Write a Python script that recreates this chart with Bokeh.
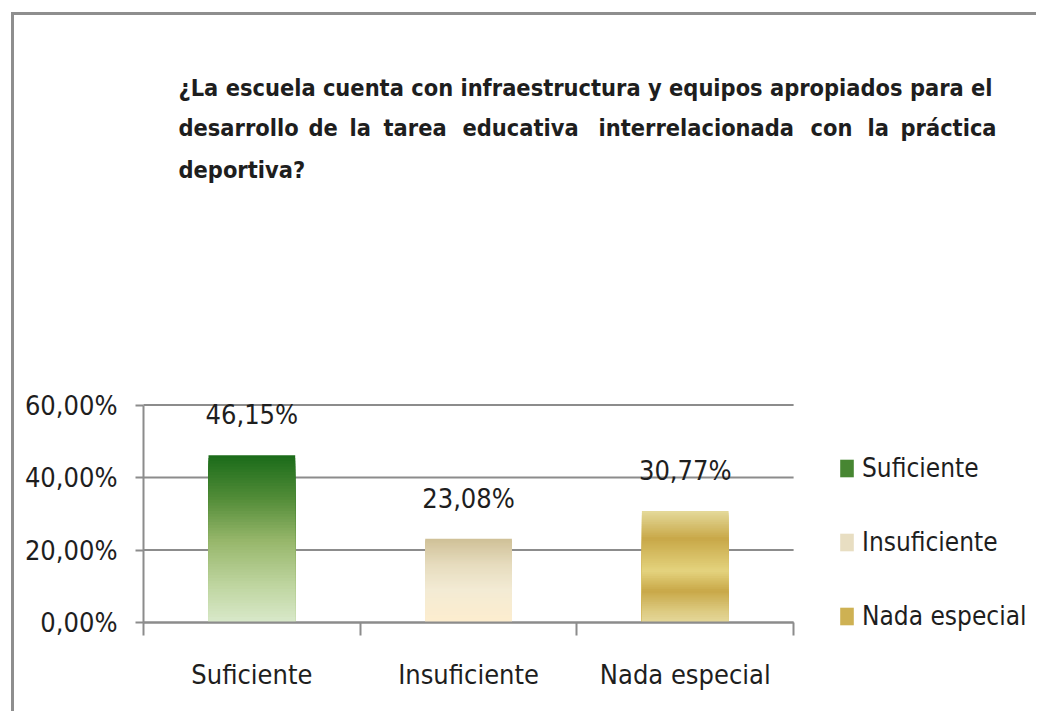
from bokeh.plotting import figure
from bokeh.models import (Range1d, FixedTicker, CustomJSTickFormatter, ColumnDataSource,
                          LabelSet, Label, Legend, LegendItem, InlineStyleSheet)
from bokeh.core.properties import value
from bokeh.embed import file_html
from bokeh.resources import INLINE

# ---------------- data ----------------
categories = ["Suficiente", "Insuficiente", "Nada especial"]
values = [46.15, 23.08, 30.77]
value_labels = ["46,15%", "23,08%", "30,77%"]
y_ticks = [0, 20, 40, 60]
y_tick_labels = ["0,00%", "20,00%", "40,00%", "60,00%"]
title_line1 = "¿La escuela cuenta con infraestructura y equipos apropiados para el"
title_line2_words = ["desarrollo", "de", "la", "tarea", "educativa", "interrelacionada", "con", "la", "práctica"]
title_line3 = "deportiva?"

# ---------------- style ----------------
FONT = "'DejaVu Sans Condensed', 'DejaVu Sans', sans-serif"
FS = "27px"
FS_LEG = "26px"
FS_TITLE = "23.4px"
GRAY = "#8c8c8c"
TXT = "#1e1e1e"
stops = [
    [(0.0, (28, 108, 26)), (0.25, (82, 140, 56)), (0.5, (150, 182, 106)), (0.75, (188, 211, 156)), (1.0, (218, 234, 204))],
    [(0.0, (208, 193, 152)), (0.3, (230, 220, 190)), (0.6, (243, 235, 212)), (1.0, (253, 237, 206))],
    [(0.0, (228, 216, 152)), (0.24, (200, 168, 72)), (0.53, (228, 211, 126)), (0.71, (200, 168, 72)),
     (0.9, (222, 204, 132)), (1.0, (229, 217, 156))],
]
legend_pick = [0.2, 0.35, 0.3]
N = 60

def grad(st, t):
    for (t0, c0), (t1, c1) in zip(st[:-1], st[1:]):
        if t0 <= t <= t1:
            f = (t - t0) / (t1 - t0) if t1 > t0 else 0
            c = [round(a + (b - a) * f) for a, b in zip(c0, c1)]
            return "#%02x%02x%02x" % tuple(c)
    return "#%02x%02x%02x" % st[-1][1]

# canvas geometry (page origin of canvas is (14, 15))
W, H = 1025, 699
AX_X = 129          # canvas x of the value axis
AX_Y = 607          # canvas y of the zero line
PX_CAT = 216.7      # pixels per category
PX_Y = 217.5 / y_ticks[-1]   # pixels per percentage point

x0 = -AX_X / PX_CAT
y1 = AX_Y / PX_Y
p = figure(width=W, height=H, output_backend="svg", toolbar_location=None,
           x_range=Range1d(x0, x0 + W / PX_CAT), y_range=Range1d(y1 - H / PX_Y, y1),
           min_border=0)
p.outline_line_color = None
p.background_fill_color = "white"
p.border_fill_color = "white"
p.margin = (12, 0, 0, 11)
p.stylesheets = [InlineStyleSheet(css=":host { border-top: 3px solid #8e8e8e; border-left: 3px solid #8e8e8e; }")]
p.xgrid.visible = False
p.ygrid.visible = False

# horizontal gridlines
p.segment(x0=[0] * len(y_ticks), x1=[len(categories)] * len(y_ticks), y0=y_ticks, y1=y_ticks,
          line_color=GRAY, line_width=2)

# bars with vertical gradient (stacked overlays)
legend_items = []
for i, (cat, v) in enumerate(zip(categories, values)):
    tops = [v * (N - k) / N for k in range(N)]
    cols = [grad(stops[i], 1 - t / v) for t in tops]
    src = ColumnDataSource(dict(x=[i + 0.5] * N, top=tops, color=cols))
    r = p.vbar(x="x", top="top", bottom=0, width=0.4, fill_color="color", line_color=None, source=src)
    idx = min(N - 1, int(legend_pick[i] * N))
    legend_items.append(LegendItem(label=cat, renderers=[r], index=idx))

# value labels
lsrc = ColumnDataSource(dict(x=[i + 0.5 for i in range(len(categories))], y=values, text=value_labels))
p.add_layout(LabelSet(x="x", y="y", text="text", source=lsrc, y_offset=31, text_align="center",
                      text_baseline="alphabetic", text_font=value(FONT), text_font_size=FS,
                      text_color=TXT))

# axes at fixed locations
p.yaxis.fixed_location = 0
p.xaxis.fixed_location = 0
p.yaxis.bounds = (y_ticks[0], y_ticks[-1])
p.xaxis.bounds = (0, len(categories))
p.yaxis.ticker = FixedTicker(ticks=y_ticks)
p.yaxis.major_label_overrides = dict(zip(y_ticks, y_tick_labels))
p.yaxis.major_tick_out = 8
p.yaxis.major_tick_in = 0
p.yaxis.minor_tick_line_color = None
p.yaxis.major_label_standoff = 18
for ax in (p.xaxis, p.yaxis):
    ax.axis_line_color = GRAY
    ax.axis_line_width = 2
    ax.major_tick_line_color = GRAY
    ax.major_tick_line_width = 2
    ax.major_label_text_font = FONT
    ax.major_label_text_font_size = FS
    ax.major_label_text_color = TXT

p.xaxis.ticker = FixedTicker(ticks=[i + 0.5 for i in range(len(categories))],
                             minor_ticks=list(range(len(categories) + 1)))
p.xaxis.formatter = CustomJSTickFormatter(args=dict(cats=categories),
                                          code="return cats[Math.floor(tick)] || ''")
p.xaxis.major_tick_out = 0
p.xaxis.major_tick_in = 0
p.xaxis.minor_tick_out = 13
p.xaxis.minor_tick_in = 0
p.xaxis.minor_tick_line_color = GRAY
p.xaxis.minor_tick_line_width = 2
p.xaxis.major_label_standoff = 23

# legend (bottom-left corner in frame pixels)
legend = Legend(items=legend_items, location=(838 - 14, 714 - 631), orientation="vertical",
                glyph_width=17, glyph_height=22, label_standoff=7, spacing=44, label_height=22,
                padding=0, margin=0, border_line_color=None, background_fill_alpha=0,
                label_text_font=FONT, label_text_font_size=FS_LEG, label_text_color=TXT)
p.add_layout(legend, "center")

# title (justified lines); screen coords relative to frame bottom-left; y = text middle
def tl(x_page, mid_page, text):
    return Label(x=x_page - 14, y=714 - mid_page, x_units="screen", y_units="screen",
                 text=text, text_font=FONT, text_font_size=FS_TITLE, text_font_style="bold",
                 text_color=TXT, text_baseline="middle", text_align="left")

p.add_layout(tl(178, 87, title_line1))
line2_x = [178, 308, 349, 383, 462, 598, 810, 867, 900]
for xw, w in zip(line2_x, title_line2_words):
    p.add_layout(tl(xw, 127, w))
p.add_layout(tl(178, 169, title_line3))

open("out.html", "w").write(file_html(p, INLINE))
